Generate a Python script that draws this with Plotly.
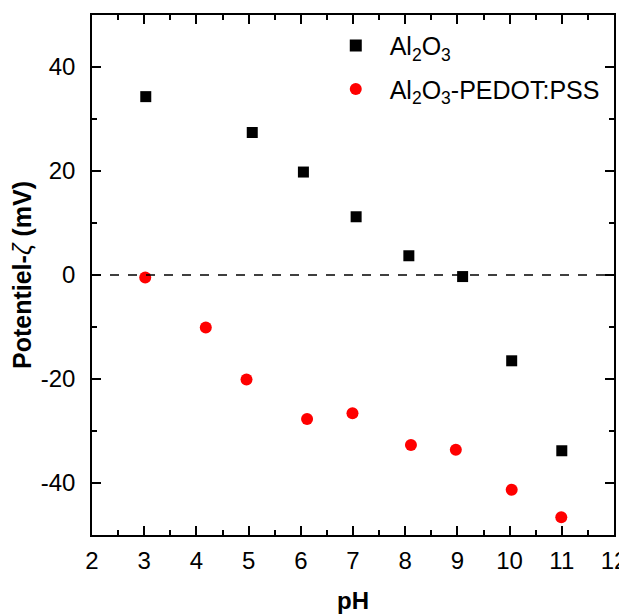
import plotly.graph_objects as go

ph_al2o3 = [3.03, 5.07, 6.05, 7.06, 8.07, 9.1, 10.04, 11.0]
zeta_al2o3 = [34.3, 27.4, 19.8, 11.2, 3.7, -0.3, -16.5, -33.8]

ph_pedot = [3.02, 4.18, 4.96, 6.12, 6.99, 8.11, 8.97, 10.04, 10.99]
zeta_pedot = [-0.5, -10.1, -20.1, -27.7, -26.6, -32.7, -33.6, -41.3, -46.6]

x_ticks = [2, 3, 4, 5, 6, 7, 8, 9, 10, 11, 12]
y_ticks = [-40, -20, 0, 20, 40]
y_ticktext = ["-40", "-20", "0", "20", "40"]

font_family = "Liberation Sans, Arial, sans-serif"

fig = go.Figure()
fig.add_trace(go.Scatter(
    x=ph_al2o3, y=zeta_al2o3, mode="markers",
    name="&nbsp;&nbsp;Al<sub>2</sub>O<sub>3</sub>",
    legendgroup="a",
    marker=dict(symbol="square", size=11, color="black")))
fig.add_trace(go.Scatter(
    x=ph_pedot, y=zeta_pedot, mode="markers",
    name="&nbsp;&nbsp;Al<sub>2</sub>O<sub>3</sub>-PEDOT:PSS",
    legendgroup="b",
    marker=dict(symbol="circle", size=12, color="red")))

fig.add_hline(y=0, line=dict(color="black", width=1.5, dash="dash"))

axis_common = dict(
    showline=True, linecolor="black", linewidth=1.5, mirror="ticks",
    ticks="inside", ticklen=9, tickwidth=1.5, tickcolor="black",
    showgrid=False, zeroline=False, automargin=False,
    ticklabeloverflow="allow",
    tickfont=dict(family=font_family, size=24, color="black"),
)

fig.update_xaxes(
    range=[2, 12], tickvals=x_ticks, ticktext=[str(v) for v in x_ticks],
    ticklabelstandoff=3,
    minor=dict(ticks="inside", ticklen=5, tickwidth=1.5, tickcolor="black", dtick=0.5, tick0=2),
    title=dict(text="<b>pH</b>", font=dict(family=font_family, size=24, color="black"), standoff=26),
    **axis_common)
fig.update_yaxes(
    range=[-50, 50], tickvals=y_ticks, ticktext=y_ticktext,
    ticklabelstandoff=10,
    minor=dict(ticks="inside", ticklen=5, tickwidth=1.5, tickcolor="black", dtick=10, tick0=0),
    title=dict(text="<b>Potentiel-</b><i>ζ</i><b> (mV)</b>", font=dict(family=font_family, size=25, color="black"), standoff=3),
    **axis_common)

# page body has an 8px default margin; size the figure so the plot area lands
# where the reference has it
fig.update_layout(
    width=619, height=606,
    margin=dict(l=84, r=13, t=7, b=79),
    plot_bgcolor="white", paper_bgcolor="white",
    font=dict(family=font_family, color="black"),
    legend=dict(x=0.467, y=0.985, xanchor="left", yanchor="top",
                bgcolor="rgba(0,0,0,0)", font=dict(family=font_family, size=25, color="black"),
                itemsizing="constant", tracegroupgap=8),
    showlegend=True,
)

fig.write_html("out.html")
